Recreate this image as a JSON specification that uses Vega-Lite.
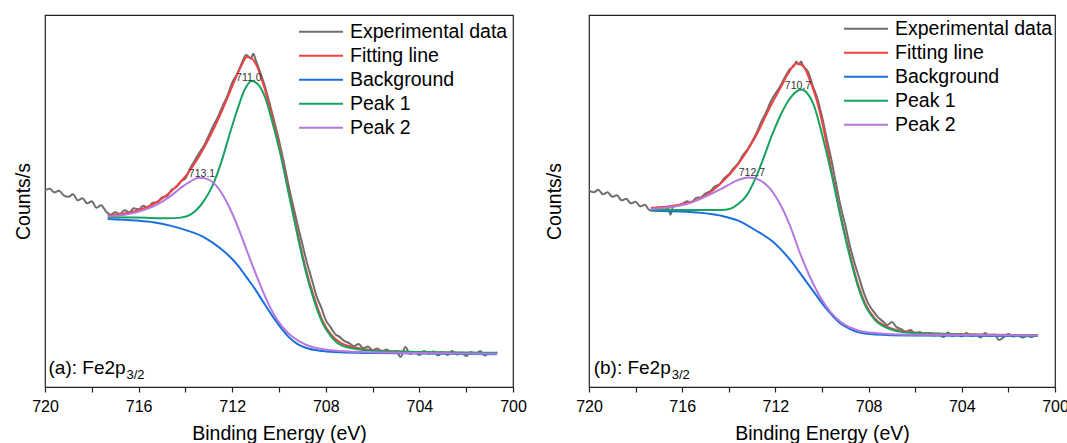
{
  "$schema": "https://vega.github.io/schema/vega-lite/v6.json",
  "padding": {"left": 12, "top": 14, "right": 5, "bottom": 0},
  "background": "white",
  "spacing": 76,
  "bounds": "flush",
  "resolve": {"legend": {"color": "independent"}},
  "config": {
    "font": "Liberation Sans",
    "view": {"stroke": "#222222", "strokeWidth": 1.2},
    "axis": {"grid": false, "labelFont": "Liberation Sans", "titleFont": "Liberation Sans", "titleFontWeight": "normal", "labelColor": "black", "titleColor": "black"},
    "legend": {"title": null, "padding": 0, "labelFont": "Liberation Sans", "labelFontSize": 19.5, "labelColor": "black", "symbolType": "M-1,0H3", "symbolSize": 484, "symbolStrokeWidth": 2, "labelOffset": 28, "rowPadding": 0, "clipHeight": 23.7, "labelLimit": 300}
  },
  "datasets": {
    "curves": [
      {"p":"a","s":"Experimental data","e":720.0,"v":197},{"p":"a","s":"Experimental data","e":719.8,"v":198.5},{"p":"a","s":"Experimental data","e":719.6,"v":195},{"p":"a","s":"Experimental data","e":719.4,"v":196.5},{"p":"a","s":"Experimental data","e":719.2,"v":192},{"p":"a","s":"Experimental data","e":719.0,"v":190.5},{"p":"a","s":"Experimental data","e":718.8,"v":193},{"p":"a","s":"Experimental data","e":718.6,"v":187},{"p":"a","s":"Experimental data","e":718.4,"v":189},{"p":"a","s":"Experimental data","e":718.2,"v":184},{"p":"a","s":"Experimental data","e":718.0,"v":186},{"p":"a","s":"Experimental data","e":717.8,"v":179.5},{"p":"a","s":"Experimental data","e":717.6,"v":182},{"p":"a","s":"Experimental data","e":717.4,"v":176},{"p":"a","s":"Experimental data","e":717.2,"v":172.5},{"p":"a","s":"Experimental data","e":717.0,"v":175},{"p":"a","s":"Experimental data","e":716.8,"v":173.5},{"p":"a","s":"Experimental data","e":716.6,"v":177},{"p":"a","s":"Experimental data","e":716.4,"v":175},{"p":"a","s":"Experimental data","e":716.2,"v":179},{"p":"a","s":"Experimental data","e":716.0,"v":178},{"p":"a","s":"Experimental data","e":715.8,"v":181.5},{"p":"a","s":"Experimental data","e":715.6,"v":179.5},{"p":"a","s":"Experimental data","e":715.4,"v":184.5},{"p":"a","s":"Experimental data","e":715.2,"v":185},{"p":"a","s":"Experimental data","e":715.0,"v":190},{"p":"a","s":"Experimental data","e":714.8,"v":191},{"p":"a","s":"Experimental data","e":714.6,"v":197.5},{"p":"a","s":"Experimental data","e":714.4,"v":200},{"p":"a","s":"Experimental data","e":714.2,"v":206},{"p":"a","s":"Experimental data","e":714.0,"v":209},{"p":"a","s":"Experimental data","e":713.8,"v":219},{"p":"a","s":"Experimental data","e":713.6,"v":227},{"p":"a","s":"Experimental data","e":713.4,"v":235},{"p":"a","s":"Experimental data","e":713.2,"v":242},{"p":"a","s":"Experimental data","e":713.0,"v":252},{"p":"a","s":"Experimental data","e":712.8,"v":262},{"p":"a","s":"Experimental data","e":712.6,"v":271},{"p":"a","s":"Experimental data","e":712.4,"v":282},{"p":"a","s":"Experimental data","e":712.2,"v":292},{"p":"a","s":"Experimental data","e":712.0,"v":305},{"p":"a","s":"Experimental data","e":711.8,"v":313},{"p":"a","s":"Experimental data","e":711.6,"v":324},{"p":"a","s":"Experimental data","e":711.4,"v":333},{"p":"a","s":"Experimental data","e":711.3,"v":331},{"p":"a","s":"Experimental data","e":711.2,"v":329},{"p":"a","s":"Experimental data","e":711.1,"v":334},{"p":"a","s":"Experimental data","e":711.0,"v":328},{"p":"a","s":"Experimental data","e":710.8,"v":315},{"p":"a","s":"Experimental data","e":710.6,"v":301},{"p":"a","s":"Experimental data","e":710.4,"v":284},{"p":"a","s":"Experimental data","e":710.2,"v":266},{"p":"a","s":"Experimental data","e":710.0,"v":247},{"p":"a","s":"Experimental data","e":709.8,"v":226},{"p":"a","s":"Experimental data","e":709.6,"v":203},{"p":"a","s":"Experimental data","e":709.4,"v":182},{"p":"a","s":"Experimental data","e":709.2,"v":162},{"p":"a","s":"Experimental data","e":709.0,"v":143},{"p":"a","s":"Experimental data","e":708.8,"v":124},{"p":"a","s":"Experimental data","e":708.6,"v":108},{"p":"a","s":"Experimental data","e":708.4,"v":91},{"p":"a","s":"Experimental data","e":708.2,"v":80},{"p":"a","s":"Experimental data","e":708.0,"v":67},{"p":"a","s":"Experimental data","e":707.8,"v":60},{"p":"a","s":"Experimental data","e":707.6,"v":53},{"p":"a","s":"Experimental data","e":707.4,"v":50},{"p":"a","s":"Experimental data","e":707.2,"v":46},{"p":"a","s":"Experimental data","e":707.0,"v":44},{"p":"a","s":"Experimental data","e":706.8,"v":41},{"p":"a","s":"Experimental data","e":706.6,"v":43},{"p":"a","s":"Experimental data","e":706.4,"v":39},{"p":"a","s":"Experimental data","e":706.2,"v":40.5},{"p":"a","s":"Experimental data","e":706.0,"v":37},{"p":"a","s":"Experimental data","e":705.8,"v":38.5},{"p":"a","s":"Experimental data","e":705.6,"v":35.5},{"p":"a","s":"Experimental data","e":705.4,"v":37.5},{"p":"a","s":"Experimental data","e":705.2,"v":34.5},{"p":"a","s":"Experimental data","e":705.0,"v":36},{"p":"a","s":"Experimental data","e":704.8,"v":30},{"p":"a","s":"Experimental data","e":704.6,"v":40},{"p":"a","s":"Experimental data","e":704.4,"v":33},{"p":"a","s":"Experimental data","e":704.2,"v":35},{"p":"a","s":"Experimental data","e":704.0,"v":32},{"p":"a","s":"Experimental data","e":703.8,"v":36},{"p":"a","s":"Experimental data","e":703.6,"v":33},{"p":"a","s":"Experimental data","e":703.4,"v":35.5},{"p":"a","s":"Experimental data","e":703.2,"v":31.5},{"p":"a","s":"Experimental data","e":703.0,"v":35},{"p":"a","s":"Experimental data","e":702.8,"v":32},{"p":"a","s":"Experimental data","e":702.6,"v":36},{"p":"a","s":"Experimental data","e":702.4,"v":32.5},{"p":"a","s":"Experimental data","e":702.2,"v":34},{"p":"a","s":"Experimental data","e":702.0,"v":31},{"p":"a","s":"Experimental data","e":701.8,"v":35},{"p":"a","s":"Experimental data","e":701.6,"v":33},{"p":"a","s":"Experimental data","e":701.4,"v":36},{"p":"a","s":"Experimental data","e":701.2,"v":31.5},{"p":"a","s":"Experimental data","e":701.0,"v":34},{"p":"a","s":"Experimental data","e":700.8,"v":33},{"p":"a","s":"Experimental data","e":700.68,"v":35},

      {"p":"a","s":"Fitting line","e":717.32,"v":171.7},{"p":"a","s":"Fitting line","e":716.09,"v":176.7},{"p":"a","s":"Fitting line","e":715.37,"v":183.3},{"p":"a","s":"Fitting line","e":714.65,"v":195},{"p":"a","s":"Fitting line","e":713.92,"v":213.3},{"p":"a","s":"Fitting line","e":713.2,"v":240},{"p":"a","s":"Fitting line","e":712.47,"v":275},{"p":"a","s":"Fitting line","e":712.11,"v":295},{"p":"a","s":"Fitting line","e":711.75,"v":315},{"p":"a","s":"Fitting line","e":711.53,"v":325.7},{"p":"a","s":"Fitting line","e":711.39,"v":330.7},{"p":"a","s":"Fitting line","e":711.17,"v":329.3},{"p":"a","s":"Fitting line","e":710.95,"v":321.7},{"p":"a","s":"Fitting line","e":710.67,"v":303.3},{"p":"a","s":"Fitting line","e":710.3,"v":271.7},{"p":"a","s":"Fitting line","e":709.94,"v":236.7},{"p":"a","s":"Fitting line","e":709.58,"v":196},{"p":"a","s":"Fitting line","e":709.22,"v":156},{"p":"a","s":"Fitting line","e":708.86,"v":119},{"p":"a","s":"Fitting line","e":708.49,"v":89},{"p":"a","s":"Fitting line","e":708.13,"v":66},{"p":"a","s":"Fitting line","e":707.77,"v":52.5},{"p":"a","s":"Fitting line","e":707.41,"v":45},{"p":"a","s":"Fitting line","e":706.69,"v":39.3},{"p":"a","s":"Fitting line","e":705.96,"v":36.7},{"p":"a","s":"Fitting line","e":704.51,"v":35.3},{"p":"a","s":"Fitting line","e":700.68,"v":34},

      {"p":"a","s":"Background","e":717.32,"v":168.3},{"p":"a","s":"Background","e":716.09,"v":166.7},{"p":"a","s":"Background","e":715.37,"v":165},{"p":"a","s":"Background","e":714.65,"v":161.7},{"p":"a","s":"Background","e":713.92,"v":156.7},{"p":"a","s":"Background","e":713.2,"v":150},{"p":"a","s":"Background","e":712.47,"v":138.3},{"p":"a","s":"Background","e":711.75,"v":121.7},{"p":"a","s":"Background","e":711.39,"v":110},{"p":"a","s":"Background","e":711.03,"v":98.3},{"p":"a","s":"Background","e":710.67,"v":85},{"p":"a","s":"Background","e":710.3,"v":71.7},{"p":"a","s":"Background","e":709.94,"v":60},{"p":"a","s":"Background","e":709.58,"v":50},{"p":"a","s":"Background","e":709.22,"v":43.3},{"p":"a","s":"Background","e":708.86,"v":39.3},{"p":"a","s":"Background","e":708.13,"v":36},{"p":"a","s":"Background","e":707.41,"v":34.7},{"p":"a","s":"Background","e":705.96,"v":34},{"p":"a","s":"Background","e":700.68,"v":32.7},

      {"p":"a","s":"Peak 1","e":717.32,"v":170},{"p":"a","s":"Peak 1","e":716.09,"v":169.7},{"p":"a","s":"Peak 1","e":714.65,"v":169},{"p":"a","s":"Peak 1","e":714.21,"v":169.7},{"p":"a","s":"Peak 1","e":713.78,"v":172.7},{"p":"a","s":"Peak 1","e":713.2,"v":186.7},{"p":"a","s":"Peak 1","e":712.84,"v":201.7},{"p":"a","s":"Peak 1","e":712.47,"v":225},{"p":"a","s":"Peak 1","e":712.11,"v":253.3},{"p":"a","s":"Peak 1","e":711.75,"v":280},{"p":"a","s":"Peak 1","e":711.46,"v":298.3},{"p":"a","s":"Peak 1","e":711.17,"v":306.7},{"p":"a","s":"Peak 1","e":710.88,"v":302.7},{"p":"a","s":"Peak 1","e":710.59,"v":290},{"p":"a","s":"Peak 1","e":710.3,"v":266.7},{"p":"a","s":"Peak 1","e":709.94,"v":233.3},{"p":"a","s":"Peak 1","e":709.58,"v":193},{"p":"a","s":"Peak 1","e":709.22,"v":153},{"p":"a","s":"Peak 1","e":708.86,"v":116},{"p":"a","s":"Peak 1","e":708.49,"v":86},{"p":"a","s":"Peak 1","e":708.13,"v":63.5},{"p":"a","s":"Peak 1","e":707.77,"v":50.5},{"p":"a","s":"Peak 1","e":707.41,"v":42.7},{"p":"a","s":"Peak 1","e":706.69,"v":38},{"p":"a","s":"Peak 1","e":705.96,"v":36.3},{"p":"a","s":"Peak 1","e":704.51,"v":35.3},{"p":"a","s":"Peak 1","e":700.68,"v":34.3},

      {"p":"a","s":"Peak 2","e":717.32,"v":170.7},{"p":"a","s":"Peak 2","e":716.09,"v":175},{"p":"a","s":"Peak 2","e":715.37,"v":181},{"p":"a","s":"Peak 2","e":714.65,"v":191},{"p":"a","s":"Peak 2","e":714.21,"v":199.3},{"p":"a","s":"Peak 2","e":713.78,"v":206},{"p":"a","s":"Peak 2","e":713.42,"v":209.7},{"p":"a","s":"Peak 2","e":713.05,"v":208.3},{"p":"a","s":"Peak 2","e":712.62,"v":200},{"p":"a","s":"Peak 2","e":712.19,"v":183.3},{"p":"a","s":"Peak 2","e":711.75,"v":160},{"p":"a","s":"Peak 2","e":711.32,"v":133.3},{"p":"a","s":"Peak 2","e":710.88,"v":106.7},{"p":"a","s":"Peak 2","e":710.45,"v":83.3},{"p":"a","s":"Peak 2","e":710.01,"v":65},{"p":"a","s":"Peak 2","e":709.58,"v":53.3},{"p":"a","s":"Peak 2","e":709.15,"v":46},{"p":"a","s":"Peak 2","e":708.57,"v":40},{"p":"a","s":"Peak 2","e":707.41,"v":36},{"p":"a","s":"Peak 2","e":705.96,"v":34.7},{"p":"a","s":"Peak 2","e":700.68,"v":33.3},

      {"p":"b","s":"Experimental data","e":720.0,"v":197},{"p":"b","s":"Experimental data","e":719.8,"v":195},{"p":"b","s":"Experimental data","e":719.6,"v":197.5},{"p":"b","s":"Experimental data","e":719.4,"v":193},{"p":"b","s":"Experimental data","e":719.2,"v":195},{"p":"b","s":"Experimental data","e":719.0,"v":190.5},{"p":"b","s":"Experimental data","e":718.8,"v":192},{"p":"b","s":"Experimental data","e":718.6,"v":187},{"p":"b","s":"Experimental data","e":718.4,"v":188.5},{"p":"b","s":"Experimental data","e":718.2,"v":184},{"p":"b","s":"Experimental data","e":718.0,"v":185.5},{"p":"b","s":"Experimental data","e":717.8,"v":181},{"p":"b","s":"Experimental data","e":717.6,"v":182.5},{"p":"b","s":"Experimental data","e":717.4,"v":177},{"p":"b","s":"Experimental data","e":717.2,"v":178.5},{"p":"b","s":"Experimental data","e":717.0,"v":180},{"p":"b","s":"Experimental data","e":716.8,"v":177.5},{"p":"b","s":"Experimental data","e":716.6,"v":179},{"p":"b","s":"Experimental data","e":716.5,"v":172.5},{"p":"b","s":"Experimental data","e":716.4,"v":180.5},{"p":"b","s":"Experimental data","e":716.2,"v":182},{"p":"b","s":"Experimental data","e":716.0,"v":183.5},{"p":"b","s":"Experimental data","e":715.8,"v":186},{"p":"b","s":"Experimental data","e":715.6,"v":185},{"p":"b","s":"Experimental data","e":715.4,"v":189.5},{"p":"b","s":"Experimental data","e":715.2,"v":190},{"p":"b","s":"Experimental data","e":715.0,"v":194},{"p":"b","s":"Experimental data","e":714.8,"v":196},{"p":"b","s":"Experimental data","e":714.6,"v":201},{"p":"b","s":"Experimental data","e":714.4,"v":203},{"p":"b","s":"Experimental data","e":714.2,"v":209},{"p":"b","s":"Experimental data","e":714.0,"v":213},{"p":"b","s":"Experimental data","e":713.8,"v":219},{"p":"b","s":"Experimental data","e":713.6,"v":224},{"p":"b","s":"Experimental data","e":713.4,"v":232},{"p":"b","s":"Experimental data","e":713.2,"v":238},{"p":"b","s":"Experimental data","e":713.0,"v":246},{"p":"b","s":"Experimental data","e":712.8,"v":255},{"p":"b","s":"Experimental data","e":712.6,"v":266},{"p":"b","s":"Experimental data","e":712.4,"v":275},{"p":"b","s":"Experimental data","e":712.2,"v":286},{"p":"b","s":"Experimental data","e":712.0,"v":294},{"p":"b","s":"Experimental data","e":711.8,"v":301},{"p":"b","s":"Experimental data","e":711.6,"v":310},{"p":"b","s":"Experimental data","e":711.4,"v":318},{"p":"b","s":"Experimental data","e":711.2,"v":322},{"p":"b","s":"Experimental data","e":711.1,"v":326},{"p":"b","s":"Experimental data","e":711.0,"v":323},{"p":"b","s":"Experimental data","e":710.9,"v":326},{"p":"b","s":"Experimental data","e":710.8,"v":321},{"p":"b","s":"Experimental data","e":710.6,"v":316},{"p":"b","s":"Experimental data","e":710.4,"v":302},{"p":"b","s":"Experimental data","e":710.2,"v":289},{"p":"b","s":"Experimental data","e":710.0,"v":271},{"p":"b","s":"Experimental data","e":709.8,"v":249},{"p":"b","s":"Experimental data","e":709.6,"v":228},{"p":"b","s":"Experimental data","e":709.4,"v":204},{"p":"b","s":"Experimental data","e":709.2,"v":181},{"p":"b","s":"Experimental data","e":709.0,"v":162},{"p":"b","s":"Experimental data","e":708.8,"v":141},{"p":"b","s":"Experimental data","e":708.6,"v":124},{"p":"b","s":"Experimental data","e":708.4,"v":109},{"p":"b","s":"Experimental data","e":708.2,"v":94},{"p":"b","s":"Experimental data","e":708.0,"v":83},{"p":"b","s":"Experimental data","e":707.8,"v":76},{"p":"b","s":"Experimental data","e":707.6,"v":70},{"p":"b","s":"Experimental data","e":707.4,"v":66},{"p":"b","s":"Experimental data","e":707.2,"v":62},{"p":"b","s":"Experimental data","e":707.0,"v":65},{"p":"b","s":"Experimental data","e":706.8,"v":60},{"p":"b","s":"Experimental data","e":706.6,"v":58},{"p":"b","s":"Experimental data","e":706.4,"v":55.5},{"p":"b","s":"Experimental data","e":706.2,"v":57},{"p":"b","s":"Experimental data","e":706.0,"v":53.5},{"p":"b","s":"Experimental data","e":705.8,"v":55},{"p":"b","s":"Experimental data","e":705.6,"v":52},{"p":"b","s":"Experimental data","e":705.4,"v":54},{"p":"b","s":"Experimental data","e":705.2,"v":51.5},{"p":"b","s":"Experimental data","e":705.0,"v":53.5},{"p":"b","s":"Experimental data","e":704.8,"v":50},{"p":"b","s":"Experimental data","e":704.6,"v":54.5},{"p":"b","s":"Experimental data","e":704.4,"v":51},{"p":"b","s":"Experimental data","e":704.2,"v":53},{"p":"b","s":"Experimental data","e":704.0,"v":50.5},{"p":"b","s":"Experimental data","e":703.8,"v":54},{"p":"b","s":"Experimental data","e":703.6,"v":51},{"p":"b","s":"Experimental data","e":703.4,"v":52.5},{"p":"b","s":"Experimental data","e":703.2,"v":49.5},{"p":"b","s":"Experimental data","e":703.0,"v":54},{"p":"b","s":"Experimental data","e":702.8,"v":51},{"p":"b","s":"Experimental data","e":702.6,"v":52.5},{"p":"b","s":"Experimental data","e":702.4,"v":47},{"p":"b","s":"Experimental data","e":702.2,"v":50},{"p":"b","s":"Experimental data","e":702.0,"v":53},{"p":"b","s":"Experimental data","e":701.8,"v":50.5},{"p":"b","s":"Experimental data","e":701.6,"v":52},{"p":"b","s":"Experimental data","e":701.4,"v":49.5},{"p":"b","s":"Experimental data","e":701.2,"v":51},{"p":"b","s":"Experimental data","e":701.0,"v":50},{"p":"b","s":"Experimental data","e":700.8,"v":52},{"p":"b","s":"Experimental data","e":700.74,"v":51.5},

      {"p":"b","s":"Fitting line","e":717.35,"v":179.3},{"p":"b","s":"Fitting line","e":716.54,"v":181},{"p":"b","s":"Fitting line","e":715.81,"v":184.3},{"p":"b","s":"Fitting line","e":715.07,"v":190.7},{"p":"b","s":"Fitting line","e":714.34,"v":204},{"p":"b","s":"Fitting line","e":713.6,"v":223.3},{"p":"b","s":"Fitting line","e":712.87,"v":250},{"p":"b","s":"Fitting line","e":712.13,"v":285},{"p":"b","s":"Fitting line","e":711.76,"v":300.7},{"p":"b","s":"Fitting line","e":711.47,"v":313.3},{"p":"b","s":"Fitting line","e":711.1,"v":324},{"p":"b","s":"Fitting line","e":710.81,"v":321.7},{"p":"b","s":"Fitting line","e":710.51,"v":306.7},{"p":"b","s":"Fitting line","e":710.22,"v":286.7},{"p":"b","s":"Fitting line","e":709.93,"v":258.3},{"p":"b","s":"Fitting line","e":709.56,"v":213},{"p":"b","s":"Fitting line","e":709.19,"v":171},{"p":"b","s":"Fitting line","e":708.82,"v":134.5},{"p":"b","s":"Fitting line","e":708.46,"v":103.5},{"p":"b","s":"Fitting line","e":708.09,"v":81},{"p":"b","s":"Fitting line","e":707.72,"v":68.5},{"p":"b","s":"Fitting line","e":706.99,"v":58.3},{"p":"b","s":"Fitting line","e":706.25,"v":55},{"p":"b","s":"Fitting line","e":704.78,"v":53.3},{"p":"b","s":"Fitting line","e":700.74,"v":52},

      {"p":"b","s":"Background","e":717.35,"v":176.7},{"p":"b","s":"Background","e":715.81,"v":175.7},{"p":"b","s":"Background","e":714.34,"v":171.7},{"p":"b","s":"Background","e":713.6,"v":166.7},{"p":"b","s":"Background","e":712.87,"v":157.3},{"p":"b","s":"Background","e":712.13,"v":146},{"p":"b","s":"Background","e":711.4,"v":128.3},{"p":"b","s":"Background","e":710.66,"v":105},{"p":"b","s":"Background","e":710.29,"v":93.3},{"p":"b","s":"Background","e":709.93,"v":81.7},{"p":"b","s":"Background","e":709.56,"v":71.7},{"p":"b","s":"Background","e":709.19,"v":63.3},{"p":"b","s":"Background","e":708.82,"v":58.3},{"p":"b","s":"Background","e":708.46,"v":55},{"p":"b","s":"Background","e":707.72,"v":52.7},{"p":"b","s":"Background","e":706.25,"v":51.7},{"p":"b","s":"Background","e":700.74,"v":51},

      {"p":"b","s":"Peak 1","e":717.35,"v":177.7},{"p":"b","s":"Peak 1","e":715.81,"v":177.3},{"p":"b","s":"Peak 1","e":714.34,"v":177.3},{"p":"b","s":"Peak 1","e":713.97,"v":178.3},{"p":"b","s":"Peak 1","e":713.6,"v":183.3},{"p":"b","s":"Peak 1","e":713.24,"v":191.7},{"p":"b","s":"Peak 1","e":712.87,"v":208.3},{"p":"b","s":"Peak 1","e":712.5,"v":230},{"p":"b","s":"Peak 1","e":712.13,"v":253.3},{"p":"b","s":"Peak 1","e":711.76,"v":273.3},{"p":"b","s":"Peak 1","e":711.4,"v":288.3},{"p":"b","s":"Peak 1","e":711.1,"v":296},{"p":"b","s":"Peak 1","e":710.88,"v":298},{"p":"b","s":"Peak 1","e":710.66,"v":295},{"p":"b","s":"Peak 1","e":710.37,"v":283.3},{"p":"b","s":"Peak 1","e":709.93,"v":246.7},{"p":"b","s":"Peak 1","e":709.56,"v":210},{"p":"b","s":"Peak 1","e":709.19,"v":169},{"p":"b","s":"Peak 1","e":708.82,"v":132},{"p":"b","s":"Peak 1","e":708.46,"v":101},{"p":"b","s":"Peak 1","e":708.09,"v":79},{"p":"b","s":"Peak 1","e":707.72,"v":67},{"p":"b","s":"Peak 1","e":706.99,"v":57.3},{"p":"b","s":"Peak 1","e":706.25,"v":54.3},{"p":"b","s":"Peak 1","e":704.78,"v":53},{"p":"b","s":"Peak 1","e":700.74,"v":51.7},

      {"p":"b","s":"Peak 2","e":717.35,"v":178.3},{"p":"b","s":"Peak 2","e":715.81,"v":183.3},{"p":"b","s":"Peak 2","e":715.07,"v":190},{"p":"b","s":"Peak 2","e":714.34,"v":198.3},{"p":"b","s":"Peak 2","e":713.6,"v":207.3},{"p":"b","s":"Peak 2","e":713.16,"v":210},{"p":"b","s":"Peak 2","e":712.72,"v":207.7},{"p":"b","s":"Peak 2","e":712.28,"v":200},{"p":"b","s":"Peak 2","e":711.84,"v":185},{"p":"b","s":"Peak 2","e":711.4,"v":163.3},{"p":"b","s":"Peak 2","e":710.96,"v":135},{"p":"b","s":"Peak 2","e":710.51,"v":110},{"p":"b","s":"Peak 2","e":710.07,"v":90},{"p":"b","s":"Peak 2","e":709.63,"v":75},{"p":"b","s":"Peak 2","e":709.19,"v":65},{"p":"b","s":"Peak 2","e":708.46,"v":56.7},{"p":"b","s":"Peak 2","e":707.72,"v":54},{"p":"b","s":"Peak 2","e":706.25,"v":52.3},{"p":"b","s":"Peak 2","e":700.74,"v":51.7}
    ],
    "peaks": [
      {"p":"a","e":711.29,"v":306.5,"t":"711.0"},{"p":"a","e":713.29,"v":210.5,"t":"713.1"},
      {"p":"b","e":711.03,"v":299,"t":"710.7"},{"p":"b","e":713.01,"v":211,"t":"712.7"}
    ],
    "tags": [
      {"p":"a","e":719.85,"v":13,"t":"(a): Fe2p"},{"p":"b","e":719.8,"v":13,"t":"(b): Fe2p"}
    ],
    "subs": [
      {"p":"a","e":716.52,"v":8.5,"t":"3/2"},{"p":"b","e":716.45,"v":8.5,"t":"3/2"}
    ]
  },
  "hconcat": [
    {
      "width": 468,
      "height": 372,
      "layer": [
        {
          "data": {"name": "curves"},
          "transform": [{"filter": "datum.p == 'a'"}],
          "mark": {"type": "line", "strokeWidth": 2, "interpolate": "monotone"},
          "encoding": {
            "x": {"field": "e", "type": "quantitative", "scale": {"domain": [700, 720], "reverse": true, "nice": false, "zero": false},
                  "axis": {"title": "Binding Energy (eV)", "values": [700,702,704,706,708,710,712,714,716,718,720], "labelExpr": "datum.value % 4 == 0 ? datum.label : ''", "format": "d", "labelFontSize": 16, "titleFontSize": 19.5, "tickSize": 5, "tickColor": "#222222", "tickWidth": 1.2, "domainColor": "#222222", "domainWidth": 1.2, "labelPadding": 6, "titlePadding": 10, "labelFlush": false, "labelOverlap": false}},
            "y": {"field": "v", "type": "quantitative", "scale": {"domain": [0, 372.7], "nice": false, "zero": false},
                  "axis": {"title": "Counts/s", "labels": false, "ticks": false, "domain": false, "titleFontSize": 19.5, "titlePadding": 12, "minExtent": 0, "maxExtent": 0}},
            "color": {"field": "s", "type": "nominal",
                      "scale": {"domain": ["Experimental data", "Fitting line", "Background", "Peak 1", "Peak 2"], "range": ["#6e6e6e", "#f34141", "#1a6fdf", "#17a35f", "#b479e0"]},
                      "legend": {"orient": "top-right", "offset": 5}}
          }
        },
        {
          "data": {"name": "peaks"},
          "transform": [{"filter": "datum.p == 'a'"}],
          "mark": {"type": "text", "fontSize": 10.5, "color": "#333333", "align": "center", "baseline": "alphabetic"},
          "encoding": {"x": {"field": "e", "type": "quantitative"}, "y": {"field": "v", "type": "quantitative"}, "text": {"field": "t"}}
        },
        {
          "data": {"name": "tags"},
          "transform": [{"filter": "datum.p == 'a'"}],
          "mark": {"type": "text", "fontSize": 19, "color": "black", "align": "left", "baseline": "alphabetic"},
          "encoding": {"x": {"field": "e", "type": "quantitative"}, "y": {"field": "v", "type": "quantitative"}, "text": {"field": "t"}}
        },
        {
          "data": {"name": "subs"},
          "transform": [{"filter": "datum.p == 'a'"}],
          "mark": {"type": "text", "fontSize": 13, "color": "black", "align": "left", "baseline": "alphabetic"},
          "encoding": {"x": {"field": "e", "type": "quantitative"}, "y": {"field": "v", "type": "quantitative"}, "text": {"field": "t"}}
        }
      ]
    },
    {
      "width": 466,
      "height": 372,
      "layer": [
        {
          "data": {"name": "curves"},
          "transform": [{"filter": "datum.p == 'b'"}],
          "mark": {"type": "line", "strokeWidth": 2, "interpolate": "monotone"},
          "encoding": {
            "x": {"field": "e", "type": "quantitative", "scale": {"domain": [700, 720], "reverse": true, "nice": false, "zero": false},
                  "axis": {"title": "Binding Energy (eV)", "values": [700,702,704,706,708,710,712,714,716,718,720], "labelExpr": "datum.value % 4 == 0 ? datum.label : ''", "format": "d", "labelFontSize": 16, "titleFontSize": 19.5, "tickSize": 5, "tickColor": "#222222", "tickWidth": 1.2, "domainColor": "#222222", "domainWidth": 1.2, "labelPadding": 6, "titlePadding": 10, "labelFlush": false, "labelOverlap": false}},
            "y": {"field": "v", "type": "quantitative", "scale": {"domain": [0, 372.7], "nice": false, "zero": false},
                  "axis": {"title": "Counts/s", "labels": false, "ticks": false, "domain": false, "titleFontSize": 19.5, "titlePadding": 25, "minExtent": 0, "maxExtent": 0}},
            "color": {"field": "s", "type": "nominal",
                      "scale": {"domain": ["Experimental data", "Fitting line", "Background", "Peak 1", "Peak 2"], "range": ["#6e6e6e", "#f34141", "#1a6fdf", "#17a35f", "#b479e0"]},
                      "legend": {"orient": "top-right", "offset": 2}}
          }
        },
        {
          "data": {"name": "peaks"},
          "transform": [{"filter": "datum.p == 'b'"}],
          "mark": {"type": "text", "fontSize": 10.5, "color": "#333333", "align": "center", "baseline": "alphabetic"},
          "encoding": {"x": {"field": "e", "type": "quantitative"}, "y": {"field": "v", "type": "quantitative"}, "text": {"field": "t"}}
        },
        {
          "data": {"name": "tags"},
          "transform": [{"filter": "datum.p == 'b'"}],
          "mark": {"type": "text", "fontSize": 19, "color": "black", "align": "left", "baseline": "alphabetic"},
          "encoding": {"x": {"field": "e", "type": "quantitative"}, "y": {"field": "v", "type": "quantitative"}, "text": {"field": "t"}}
        },
        {
          "data": {"name": "subs"},
          "transform": [{"filter": "datum.p == 'b'"}],
          "mark": {"type": "text", "fontSize": 13, "color": "black", "align": "left", "baseline": "alphabetic"},
          "encoding": {"x": {"field": "e", "type": "quantitative"}, "y": {"field": "v", "type": "quantitative"}, "text": {"field": "t"}}
        }
      ]
    }
  ]
}
